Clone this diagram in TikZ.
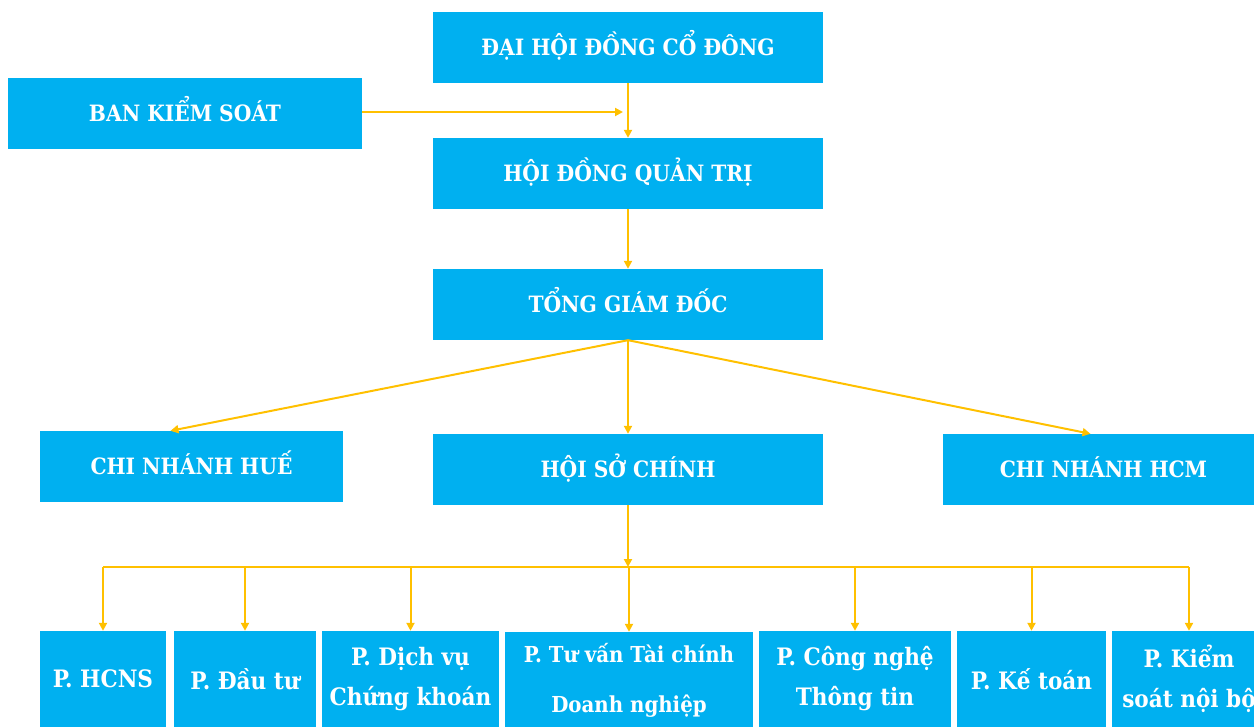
\documentclass[tikz,border=0pt]{standalone}
\usepackage{fontspec}
\setmainfont{DejaVu Serif Condensed}[BoldFont={DejaVu Serif Condensed Bold}]
\usetikzlibrary{arrows.meta,calc}
\definecolor{boxblue}{HTML}{00B0F0}
\definecolor{lineyellow}{HTML}{FFC000}
\begin{document}
\begin{tikzpicture}[x=1pt,y=-1pt,
  box/.style={fill=boxblue, text=white, font=\bfseries\fontsize{22.5}{40}\selectfont, inner sep=0pt, align=center, minimum height=71pt},
  topbox/.style={box, text height=17pt, text depth=0pt},
  lowbox/.style={box, minimum height=96pt, font=\bfseries\fontsize{24}{40}\selectfont},
  conn/.style={draw=lineyellow, line width=2pt, -{Triangle[length=8pt,width=8pt]}},
  plainline/.style={draw=lineyellow, line width=2pt}]
\useasboundingbox (0,0) rectangle (1254,727);
% upper boxes
\node[topbox, minimum width=390pt] (dh) at (628,47.5) {ĐẠI HỘI ĐỒNG CỔ ĐÔNG};
\node[topbox, minimum width=354pt] (bks) at (185,113.5) {BAN KIỂM SOÁT};
\node[topbox, minimum width=390pt] (hdqt) at (628,173.5) {HỘI ĐỒNG QUẢN TRỊ};
\node[topbox, minimum width=390pt] (tgd) at (628,304.5) {TỔNG GIÁM ĐỐC};
\node[topbox, minimum width=303pt] (hue) at (191.5,466.5) {CHI NHÁNH HUẾ};
\node[topbox, minimum width=390pt] (hsc) at (628,469.5) {HỘI SỞ CHÍNH};
\node[topbox, minimum width=321pt] (hcm) at (1103.5,469.5) {CHI NHÁNH HCM};
% lower boxes
\node[lowbox, minimum width=126pt] (hcns) at (103,679) {P. HCNS};
\node[lowbox, minimum width=142pt] (dautu) at (245,679) {P. Đầu tư};
\node[lowbox, minimum width=177pt] (dvck) at (410.5,679) {P. Dịch vụ\\Chứng khoán};
\node[lowbox, minimum width=248pt, font=\bfseries\fontsize{22}{50}\selectfont] (tvtc) at (629,680) {P. Tư vấn Tài chính\\Doanh nghiệp};
\node[lowbox, minimum width=192pt] (cntt) at (855,679) {P. Công nghệ\\Thông tin};
\node[lowbox, minimum width=149pt] (kt) at (1031.5,679) {P. Kế toán};
\node[lowbox, minimum width=154pt] (ksnb) at (1189,679) {P. Kiểm\\soát nội bộ};
% connectors top
\draw[conn] (dh.south) -- (hdqt.north);
\coordinate (bksend) at (623,112);
\draw[conn] (bks.east |- bksend) -- (bksend);
\draw[conn] (hdqt.south) -- (tgd.north);
\draw[conn] (tgd.south) -- ($(hue.north)+(-21,0)$);
\draw[conn] (tgd.south) -- (hsc.north);
\draw[conn] (tgd.south) -- ($(hcm.north)+(-13,0)$);
% bus
\coordinate (bus) at (628,567);
\draw[conn] (hsc.south) -- (bus);
\draw[plainline] (hcns.north |- bus) -- (ksnb.north |- bus);
\foreach \n in {hcns,dautu,dvck,tvtc,cntt,kt,ksnb}{
  \draw[conn] (\n.north |- bus) -- (\n.north);
}
\end{tikzpicture}
\end{document}
